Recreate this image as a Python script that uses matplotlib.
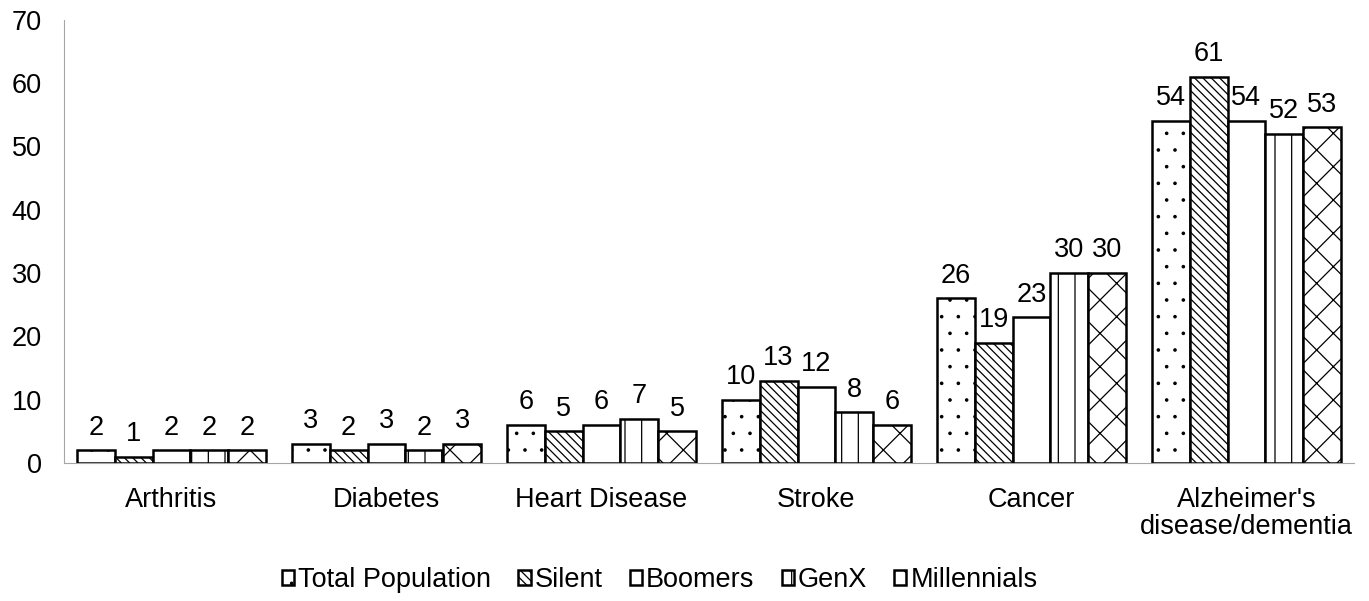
import numpy as np
import matplotlib.pyplot as plt
from matplotlib import hatch as mhatch

plt.rcParams['font.family'] = ['Liberation Sans', 'DejaVu Sans']
plt.rcParams['hatch.linewidth'] = 0.9
# smaller dots for the '.' hatch
mhatch.SmallFilledCircles.size = 0.07

categories = ['Arthritis', 'Diabetes', 'Heart Disease', 'Stroke', 'Cancer',
              "Alzheimer's\ndisease/dementia"]
series = ['Total Population', 'Silent', 'Boomers', 'GenX', 'Millennials']
total_population = [2, 3, 6, 10, 26, 54]
silent = [1, 2, 5, 13, 19, 61]
boomers = [2, 3, 6, 12, 23, 54]
genx = [2, 2, 7, 8, 30, 52]
millennials = [2, 3, 5, 6, 30, 53]
values = [total_population, silent, boomers, genx, millennials]
hatches = ['.', '\\\\\\\\', '', '|', 'x']

fs = 19.5
fig, ax = plt.subplots(figsize=(13.69, 6.01), dpi=100)
fig.subplots_adjust(left=0.0467, right=0.989, top=0.967, bottom=0.2296)

x = np.arange(len(categories))
w = 0.176
for i, (name, vals, h) in enumerate(zip(series, values, hatches)):
    pos = x + (i - 2) * w
    ax.bar(pos, vals, w, label=name, color='white', edgecolor='black',
           linewidth=1.8, hatch=h)
    for xp, v in zip(pos, vals):
        ax.annotate(str(v), (xp, v), xytext=(0, 7), textcoords='offset points',
                    ha='center', va='bottom', fontsize=fs)

ax.set_ylim(0, 70)
ax.set_xlim(-0.5, 5.5)
ax.set_yticks(range(0, 71, 10))
ax.set_xticks(x)
ax.set_xticklabels(categories, fontsize=fs, linespacing=1.05)
ax.tick_params(axis='y', labelsize=fs, length=0, pad=16)
ax.tick_params(axis='x', length=0, pad=17)
for s in ['top', 'right']:
    ax.spines[s].set_visible(False)
ax.spines['left'].set_color('#a6a6a6')
ax.spines['bottom'].set_color('#a6a6a6')

fig.legend(loc='center', bbox_to_anchor=(0.482, 0.035), ncol=5, frameon=False,
           fontsize=fs, handlelength=0.45, handleheight=0.45,
           handletextpad=0.15, columnspacing=1.0)

fig.savefig('out.png', dpi=100)
